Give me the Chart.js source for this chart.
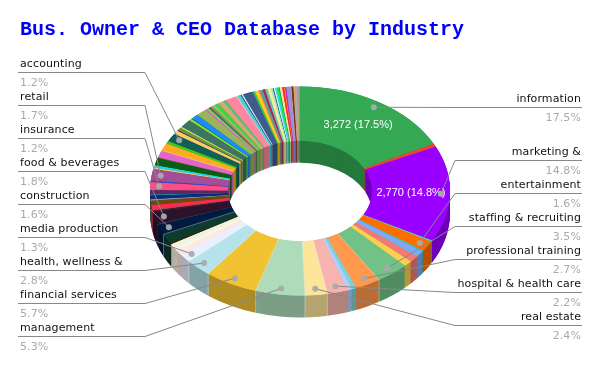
<!DOCTYPE html>
<html>
<head>
<meta charset="utf-8">
<title>Bus. Owner & CEO Database by Industry</title>
<script src="https://cdn.jsdelivr.net/npm/chart.js@4"></script>
<style>
  body { margin: 0; background: #fff; }
  canvas { display: block; }
</style>
</head>
<body>
<canvas id="industryChart" width="600" height="371"></canvas>
<script>
const chartTitle = 'Bus. Owner & CEO Database by Industry';

// share of the database in percent, clockwise from 12 o'clock
const sliceShares = [
  17.5, 0.5, 14.8, 0.2, 1.6, 0.2, 0.9, 1.0, 0.9, 3.5,
  2.7, 0.5, 0.5, 2.2, 2.4, 5.3, 5.7, 2.8, 1.3, 0.7,
  0.5, 0.4, 0.3, 0.2, 1.5, 1.6, 0.1, 1.8, 0.3, 0.15,
  0.65, 0.1, 0.65, 0.2, 0.6, 0.1, 0.7, 1.2, 0.1, 0.15,
  1.7, 0.1, 0.2, 0.4, 1.1, 0.1, 1.1, 1.2, 0.4, 0.1,
  1.2, 0.55, 0.15, 0.4, 0.1, 0.1, 1.3, 0.3, 0.1, 0.7,
  0.1, 1.1, 0.15, 0.3, 0.25, 0.15, 0.15, 0.2, 0.35, 0.15,
  0.6, 0.35, 1.2, 0.15, 0.35, 0.15, 0.15, 1.1, 0.25, 0.35,
  0.15, 0.35, 0.25, 0.3, 0.35, 0.2, 0.1, 0.15, 0.2, 0.2,
  0.1, 0.25, 0.2, 0.1, 0.15, 0.45, 0.1, 0.2, 0.15, 0.25,
  0.15, 0.15
];

const sliceColors = [
  '#34A853', '#EA4335', '#9900FF', '#5AD1A0', '#FF6D01', '#46BDC6', '#7BAAF7', '#F07B72', '#FCD04F', '#71C287',
  '#FF994D', '#7ED1D7', '#B3CEFB', '#F7B4AE', '#FDE49B', '#AEDCBA', '#F1C232', '#B6E3E9', '#E9EFFC', '#FDE8E6',
  '#FEF6E0', '#E7F6EC', '#FCF3D5', '#3A2410', '#0E3B30', '#001A40', '#665577', '#2C132C', '#4A1A2A', '#8A5A6A',
  '#FF2A4A', '#6B4A3A', '#6B4A12', '#8899AA', '#0B2A7A', '#1FA0C0', '#5A2A62', '#FF4C86', '#6A4AA0', '#2050D0',
  '#A64D9A', '#8A5A2A', '#FFC07A', '#22D3DC', '#0B5C14', '#7A5A3A', '#E066C8', '#FFAB1F', '#3CC81E', '#2A5A3A',
  '#0F5F5A', '#FFC966', '#3A3A7A', '#6E9B2B', '#7FD62A', '#F3F0C8', '#3F7362', '#7CE32A', '#2A5C6A', '#1B8CFF',
  '#3A9A5A', '#9BB35A', '#D65CE0', '#A3B862', '#1C8A55', '#E86A6A', '#4FB35F', '#C8B27C', '#30E040', '#8DA64A',
  '#D2A97D', '#5FBF6F', '#FF85A0', '#D8C8B0', '#4FD0E8', '#2F6A7A', '#CFE8E8', '#3F5A8C', '#3FBF4F', '#FFCC1F',
  '#FF9A30', '#5A9AA0', '#B5224F', '#6FC0B0', '#F2F09A', '#A8E0D0', '#2F6A6A', '#D8F0F0', '#33E0E8', '#22E83A',
  '#3A8A9A', '#F0E8A0', '#FF2A2A', '#FF8A20', '#C030C0', '#9A90E0', '#C0A080', '#6B3A10', '#E89A70', '#A8A8B8',
  '#B8A878', '#8F8FC8'
];

// text printed on the two big slices
const insideSlices = [0, 2];
const insideLabels = ['3,272 (17.5%)', '2,770 (14.8%)'];

const leftNames = ['accounting', 'retail', 'insurance', 'food & beverages', 'construction', 'media production', 'health, wellness &', 'financial services', 'management'];
const leftPercents = ['1.2%', '1.7%', '1.2%', '1.8%', '1.6%', '1.3%', '2.8%', '5.7%', '5.3%'];
const leftSlices = [50, 40, 37, 27, 25, 18, 17, 16, 15];

const rightNames = ['information', 'marketing &', 'entertainment', 'staffing & recruiting', 'professional training', 'hospital & health care', 'real estate'];
const rightPercents = ['17.5%', '14.8%', '1.6%', '3.5%', '2.7%', '2.2%', '2.4%'];
const rightSlices = [0, 2, 4, 9, 10, 13, 14];

const leftRows = [72, 105, 138, 171, 204, 237, 270, 303, 336];
const rightRows = [107, 160, 193, 226, 259, 292, 325];

const tilt = 0.697;
const wallDepth = 22;
const faceCenterY = 191;

function darken(hex, factor) {
  const n = parseInt(hex.slice(1), 16);
  const r = Math.round((n >> 16 & 255) * factor);
  const g = Math.round((n >> 8 & 255) * factor);
  const b = Math.round((n & 255) * factor);
  return `rgb(${r},${g},${b})`;
}

function tiltCanvas(ctx, pivotY, drop) {
  ctx.translate(0, faceCenterY + drop);
  ctx.scale(1, tilt);
  ctx.translate(0, -pivotY);
}

function spotAt(arc, angle, radius) {
  return {
    x: arc.x + Math.cos(angle) * radius,
    y: faceCenterY + Math.sin(angle) * radius * tilt
  };
}

// where the middle of a slice lands after the tilt
function sliceSpot(arc, radius) {
  return spotAt(arc, (arc.startAngle + arc.endAngle) / 2, radius);
}

function fillArc(ctx, arc, color) {
  const keep = arc.options;
  arc.options = Object.assign({}, keep, { backgroundColor: color });
  arc.draw(ctx);
  arc.options = keep;
}

// faint light lines where two wider slices meet
function drawSeams(ctx, arcs) {
  ctx.strokeStyle = 'rgba(255,255,255,0.4)';
  ctx.lineWidth = 0.8;
  arcs.forEach((arc, i) => {
    if (i === 0 || sliceShares[i] < 1 || sliceShares[i - 1] < 1) return;
    const inner = spotAt(arc, arc.startAngle, arc.innerRadius);
    const outer = spotAt(arc, arc.startAngle, arc.outerRadius);
    ctx.beginPath();
    ctx.moveTo(inner.x, inner.y);
    ctx.lineTo(outer.x, outer.y);
    if (Math.sin(arc.startAngle) > 0) ctx.lineTo(outer.x, outer.y + wallDepth);
    ctx.stroke();
  });
}

const tiltedRing = {
  id: 'tiltedRing',
  beforeDatasetsDraw(chart) {
    const ctx = chart.ctx;
    const arcs = chart.getDatasetMeta(0).data;
    const pivotY = arcs[0].y;
    for (let drop = wallDepth; drop >= 1; drop--) {
      ctx.save();
      tiltCanvas(ctx, pivotY, drop);
      arcs.forEach((arc, i) => fillArc(ctx, arc, darken(sliceColors[i], 0.72)));
      ctx.restore();
    }
    // first pass of the top face, so the wall does not bleed through thin slices
    ctx.save();
    tiltCanvas(ctx, pivotY, 0);
    arcs.forEach((arc, i) => fillArc(ctx, arc, sliceColors[i]));
  },
  afterDatasetsDraw(chart) {
    chart.ctx.restore();
  },
  afterDraw(chart) {
    const ctx = chart.ctx;
    const arcs = chart.getDatasetMeta(0).data;

    ctx.save();
    drawSeams(ctx, arcs);

    ctx.font = '11px "Liberation Sans", Arial, sans-serif';
    ctx.fillStyle = '#ffffff';
    ctx.textAlign = 'center';
    ctx.textBaseline = 'middle';
    insideSlices.forEach((s, i) => {
      const arc = arcs[s];
      const p = sliceSpot(arc, (arc.innerRadius + arc.outerRadius) / 2);
      ctx.fillText(insideLabels[i], p.x, p.y);
    });

    function callout(names, percents, slices, rows, textX, elbowX, align) {
      ctx.textAlign = align;
      ctx.textBaseline = 'alphabetic';
      ctx.letterSpacing = '0.1px';
      names.forEach((name, i) => {
        const arc = arcs[slices[i]];
        const p = sliceSpot(arc, arc.outerRadius * 0.94);
        ctx.strokeStyle = '#888888';
        ctx.lineWidth = 1;
        ctx.beginPath();
        ctx.moveTo(p.x, p.y);
        ctx.lineTo(elbowX, rows[i] + 0.5);
        ctx.lineTo(align === 'left' ? textX - 2 : textX + 1, rows[i] + 0.5);
        ctx.stroke();
        ctx.fillStyle = 'rgba(170,170,170,0.95)';
        ctx.beginPath();
        ctx.arc(p.x, p.y, 3, 0, Math.PI * 2);
        ctx.fill();
        ctx.font = '11px "DejaVu Sans", Verdana, sans-serif';
        ctx.fillStyle = '#111111';
        ctx.fillText(name, textX, rows[i] - 5);
        ctx.fillStyle = '#aaaaaa';
        ctx.fillText(percents[i], textX, rows[i] + 14);
      });
    }
    callout(leftNames, leftPercents, leftSlices, leftRows, 20, 145, 'left');
    callout(rightNames, rightPercents, rightSlices, rightRows, 581, 455, 'right');
    ctx.restore();
  }
};

new Chart(document.getElementById('industryChart'), {
  type: 'doughnut',
  data: {
    labels: sliceShares.map((_, i) => String(i)),
    datasets: [{
      data: sliceShares,
      backgroundColor: sliceColors,
      borderWidth: 0,
      clip: false
    }]
  },
  options: {
    responsive: false,
    animation: false,
    events: [],
    cutout: '48%',
    layout: { padding: { left: 20, right: 20, bottom: 29 } },
    plugins: {
      legend: { display: false },
      tooltip: { enabled: false },
      title: {
        display: true,
        text: chartTitle,
        align: 'start',
        color: '#0000ff',
        font: { family: '"Liberation Mono", "Courier New", monospace', size: 20, weight: 'bold' },
        padding: { top: 18, bottom: 0 }
      }
    }
  },
  plugins: [tiltedRing]
});
</script>
</body>
</html>
